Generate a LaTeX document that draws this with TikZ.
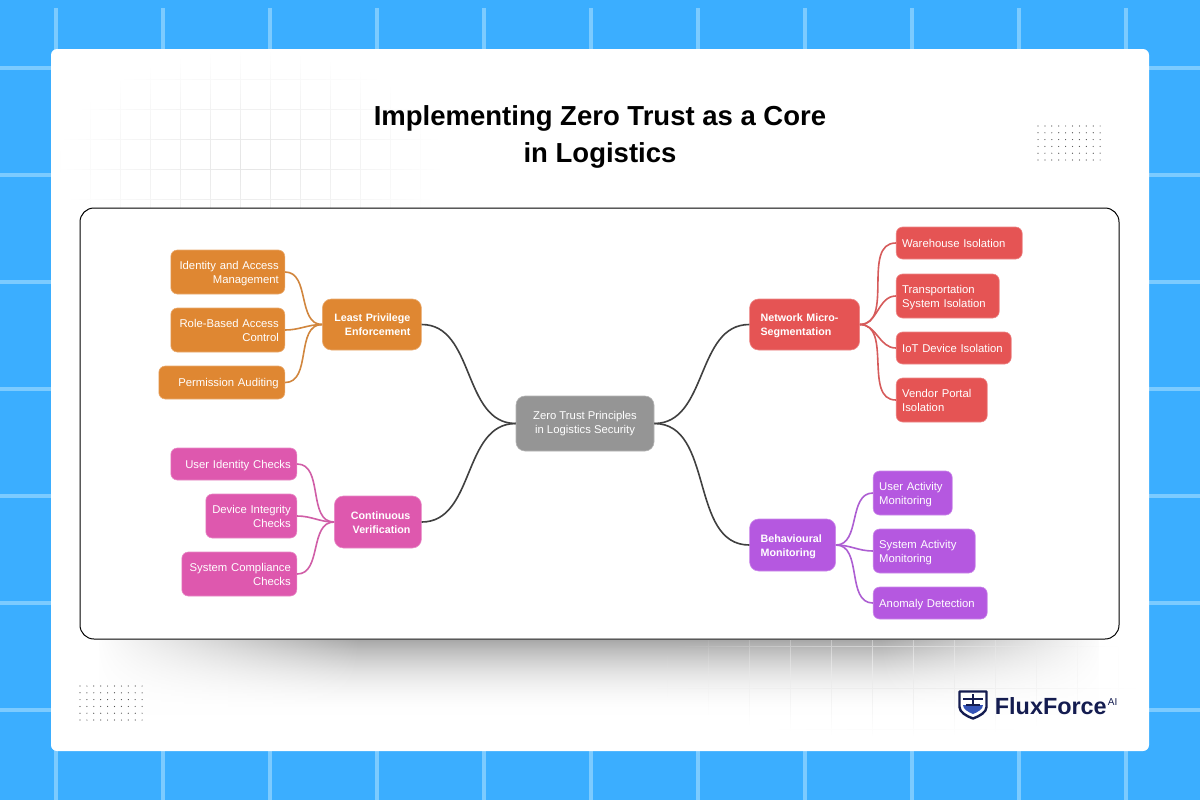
\documentclass[tikz,border=0pt]{standalone}
\usepackage{fontspec}
\setmainfont{Liberation Sans}
\usetikzlibrary{positioning,fadings}

\definecolor{skyblue}{HTML}{3BAEFF}
\definecolor{skyline}{HTML}{7CCBFF}
\definecolor{navy}{HTML}{141C50}
\definecolor{shieldblue}{HTML}{3554B8}
\definecolor{orangebox}{HTML}{DF8732}
\definecolor{pinkbox}{HTML}{DE58AE}
\definecolor{redbox}{HTML}{E55454}
\definecolor{purplebox}{HTML}{B558E0}
\definecolor{greybox}{HTML}{959595}

\tikzfading[name=gridfade,inner color=transparent!0,outer color=transparent!100]

\tikzset{
    box/.style={rectangle,rounded corners=3.25pt,inner ysep=0pt,inner xsep=3pt,
        text=white,font=\fontsize{5.65}{7}\selectfont,
        execute at begin node={\rule[-1.6pt]{0pt}{7.2pt}},
        execute at end node={\rule[-1.6pt]{0pt}{6.2pt}}},
    leaf/.style 2 args={box,fill=#1,draw=#1!70!white,line width=.3pt,minimum height=#2},
    mainbox/.style={box,rounded corners=4.5pt,inner xsep=5.5pt,fill=#1,draw=#1!70!white,line width=.3pt,
        font=\fontsize{5.35}{7}\selectfont\bfseries},
    link/.style={line width=.8pt,#1}
}

\begin{document}
\begin{tikzpicture}[x=.5pt,y=-.5pt]
    \useasboundingbox (0,0) rectangle (1200,800);
    \fill[skyblue] (0,0) rectangle (1200,800);

    % backdrop
    \foreach \x in {56,163,...,1200}
        \draw[skyline,line width=2pt] (\x,8) -- (\x,800);
    \foreach \y in {68,175,...,800}
        \draw[skyline,line width=2pt] (0,\y) -- (1200,\y);
    \fill[white,rounded corners=3pt] (51,49) rectangle (1149,751);

    \draw[black!10,line width=.5pt,step=15pt,yshift=-10pt,path fading=gridfade] (60,32) grid (440,250);
    \shade[top color=black!34,bottom color=white,path fading=south] (100,640) rectangle (1100,715);
    \fill[white,path fading=east] (95,636) rectangle (360,718);
    \fill[white,path fading=west] (880,636) rectangle (1105,718);
    \draw[black!8,line width=.5pt,step=20.5pt,xshift=5.5pt,yshift=4.5pt,path fading=gridfade] (640,620) grid (1130,745);

    % dots
    \foreach \x in {0,...,9} \foreach \y in {0,...,5} {
        \fill[black!70] (1038+6.9*\x,126+6.8*\y) circle (.3pt);
        \fill[black!70] (80+6.9*\x,686+6.8*\y) circle (.3pt);
    }

    \node[font=\fontsize{13.75}{18.5}\selectfont\bfseries,align=center] (title) at (600,137)
        {Implementing Zero Trust as a Core\\in Logistics};

    \draw[black,line width=.5pt,fill=white,rounded corners=7pt] (80,208) rectangle (1119,639);

    % mind map
    \node[leaf={greybox}{27.5pt},rounded corners=4.5pt,minimum width=69pt,align=center] (root) at (585,423.5)
        {Zero Trust Principles\\in Logistics Security};

    \node[mainbox=orangebox,text width=38.5pt,align=right,minimum height=25.5pt,left=47pt of root,yshift=49.5pt] (lp)
        {Least Privilege\\Enforcement};
    \node[mainbox=pinkbox,text width=32.5pt,align=right,minimum height=26pt,left=47pt of root,yshift=-49.25pt] (cv)
        {Continuous\\Verification};
    \node[mainbox=redbox,text width=44pt,align=left,minimum height=25.5pt,right=47.5pt of root,yshift=49.5pt] (ns)
        {Network Micro-\\Segmentation};
    \node[mainbox=purplebox,text width=32pt,align=left,minimum height=26pt,right=47.5pt of root,yshift=-60.75pt] (bm)
        {Behavioural\\Monitoring};

    \node[leaf={orangebox}{22pt},text width=51pt,align=right,left=18.5pt of lp,yshift=26.25pt] (iam)
        {Identity and Access\\Management};
    \node[leaf={orangebox}{22pt},text width=51pt,align=right,left=18.5pt of lp,yshift=-2.75pt] (rbac)
        {Role-Based Access\\Control};
    \node[leaf={orangebox}{16.5pt},text width=57pt,align=right,left=18.5pt of lp,yshift=-29pt] (audit)
        {Permission Auditing};

    \node[leaf={pinkbox}{16pt},text width=57pt,align=right,left=18.5pt of cv,yshift=29pt] (uic)
        {User Identity Checks};
    \node[leaf={pinkbox}{22pt},text width=39.5pt,align=right,left=18.5pt of cv,yshift=3pt] (dic)
        {Device Integrity\\Checks};
    \node[leaf={pinkbox}{22pt},text width=51.5pt,align=right,left=18.5pt of cv,yshift=-26pt] (scc)
        {System Compliance\\Checks};

    \node[leaf={redbox}{16pt},text width=57pt,align=left,right=18pt of ns,yshift=40.75pt] (wh)
        {Warehouse Isolation};
    \node[leaf={redbox}{22pt},text width=45.5pt,align=left,right=18pt of ns,yshift=14.25pt] (ts)
        {Transportation\\System Isolation};
    \node[leaf={redbox}{16pt},text width=51.5pt,align=left,right=18pt of ns,yshift=-11.75pt] (iot)
        {IoT Device Isolation};
    \node[leaf={redbox}{22pt},text width=39.5pt,align=left,right=18pt of ns,yshift=-37.75pt] (vp)
        {Vendor Portal\\Isolation};

    \node[leaf={purplebox}{22pt},text width=33.5pt,align=left,right=18.5pt of bm,yshift=26pt] (uam)
        {User Activity\\Monitoring};
    \node[leaf={purplebox}{22pt},text width=45pt,align=left,right=18.5pt of bm,yshift=-3pt] (sam)
        {System Activity\\Monitoring};
    \node[leaf={purplebox}{16pt},text width=51pt,align=left,right=18.5pt of bm,yshift=-29pt] (ad)
        {Anomaly Detection};

    \foreach \v in {lp,cv}
        \draw[link=black!75] (root.west) to[out=180,in=0] (\v.east);
    \foreach \v in {ns,bm}
        \draw[link=black!75] (root.east) to[out=0,in=180] (\v.west);
    \foreach \u / \v in {iam/lp,rbac/lp,audit/lp}
        \draw[link=orangebox!85!gray] (\u.east) to[out=0,in=180] (\v.west);
    \foreach \u / \v in {uic/cv,dic/cv,scc/cv}
        \draw[link=pinkbox!85!gray] (\u.east) to[out=0,in=180] (\v.west);
    \foreach \u / \v in {wh/ns,ts/ns,iot/ns,vp/ns}
        \draw[link=redbox!85!gray] (\u.west) to[out=180,in=0] (\v.east);
    \foreach \u / \v in {uam/bm,sam/bm,ad/bm}
        \draw[link=purplebox!85!gray] (\u.west) to[out=180,in=0] (\v.east);

    % logo
    \draw[navy,line width=1.2pt,fill=white,line join=round] (959.5,691.5) -- (986.5,691.5) -- (986.5,707)
        .. controls (986.5,712) and (980,716) .. (973,718.5) .. controls (966,716) and (959.5,712) .. (959.5,707) -- cycle;
    \fill[shieldblue] (963,705) -- (983,705) .. controls (983,709) and (978,712) .. (973,714)
        .. controls (968,712) and (963,709) .. (963,705) -- cycle;
    \draw[navy,line width=.8pt] (963,699) -- (983,699) (973,694) -- (973,705) (966,705) -- (980,705);
    \node[anchor=base west,inner sep=0pt,text=navy,font=\fontsize{11.7}{14}\selectfont\bfseries] (brand) at (994.5,714)
        {FluxForce};
    \node[anchor=base west,inner sep=0pt,text=navy,font=\fontsize{5}{5}\selectfont] (brandai) at (1107.5,705)
        {AI};
\end{tikzpicture}
\end{document}
